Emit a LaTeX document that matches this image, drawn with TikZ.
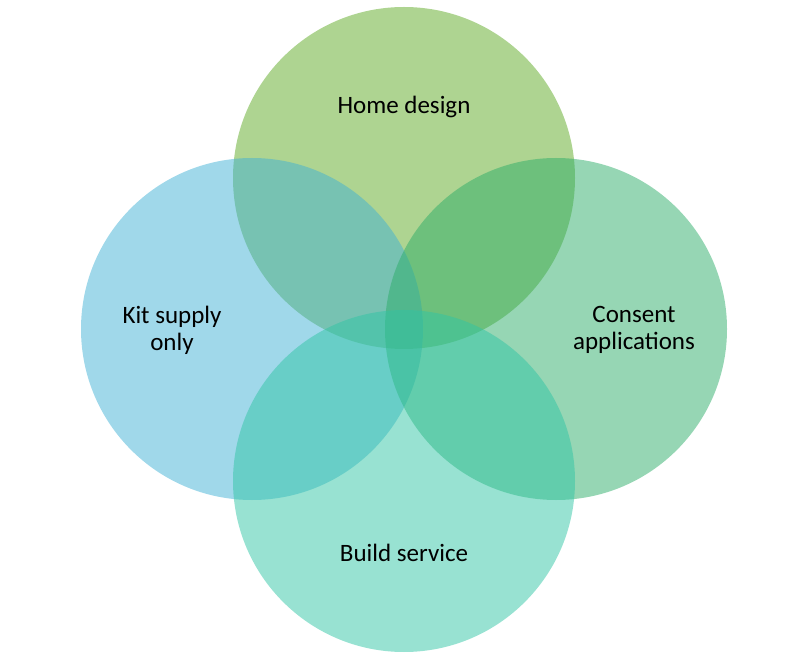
\documentclass[tikz,border=0pt]{standalone}
\usepackage{fontspec}
\setmainfont{Carlito}
\usetikzlibrary{positioning}

\definecolor{homegreen}{RGB}{93,169,35}
\definecolor{kitblue}{RGB}{65,177,213}
\definecolor{consentgreen}{RGB}{45,173,105}
\definecolor{buildteal}{RGB}{49,197,165}

\tikzstyle{venn} = [circle, minimum size=342pt, inner sep=0pt, fill opacity=0.5, text opacity=1]
\tikzstyle{label} = [align=center, font=\fontsize{25}{27}\selectfont, text=black]

\begin{document}
\begin{tikzpicture}[x=1pt, y=-1pt]
\useasboundingbox (0,0) rectangle (809,660);
  \node[venn, fill=homegreen] (home) at (404,178) {};
  \node[venn, fill=kitblue] (kit) at (252,329) {};
  \node[venn, fill=consentgreen] (consent) at (556,329) {};
  \node[venn, fill=buildteal] (build) at (404,481) {};
  % labels
  \node[label] (homelbl) at (404,107) {Home design};
  \node[label] (kitlbl) at (172,330) {Kit supply\\only};
  \node[label] (consentlbl) at (634,330) {Consent\\applications};
  \node[label] (buildlbl) at (404,553) {Build service};
\end{tikzpicture}
\end{document}
